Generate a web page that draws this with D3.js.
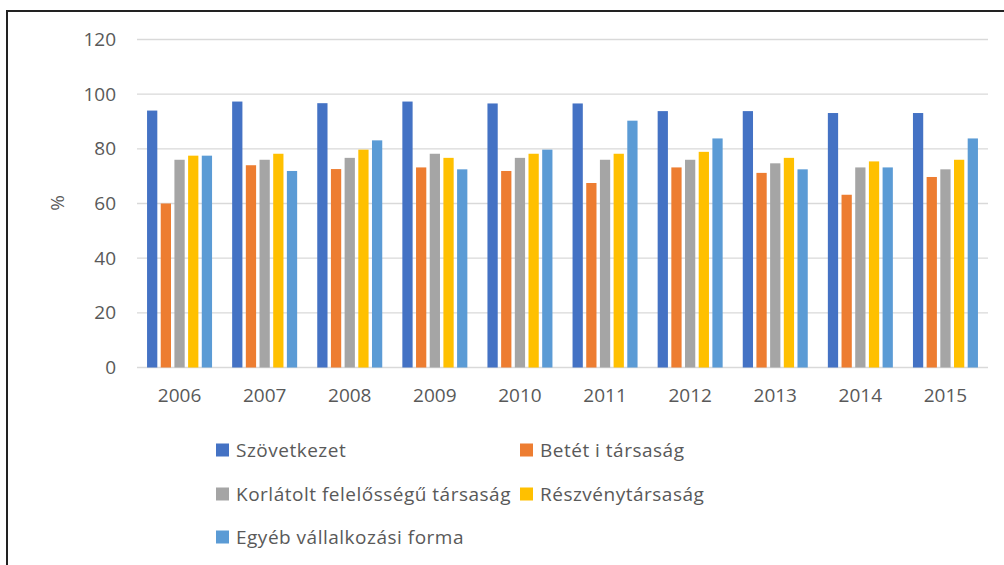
<!DOCTYPE html>
<html><head><meta charset="utf-8">
<script src="https://cdn.jsdelivr.net/npm/d3@7"></script>
<style>
body{margin:0;background:#fff;}
svg{display:block;font-family:"Open Sans","Noto Sans",sans-serif;}
</style></head>
<body><svg id="c" width="1004" height="565"></svg>
<script>
const years = ["2006","2007","2008","2009","2010","2011","2012","2013","2014","2015"];
const seriesNames = ["Szövetkezet","Betét i társaság","Korlátolt felelősségű társaság","Részvénytársaság","Egyéb vállalkozási forma"];
const szovetkezet = [94, 97.3, 96.7, 97.3, 96.6, 96.6, 93.8, 93.8, 93.1, 93.1];
const beteti = [60, 74, 72.6, 73.2, 71.9, 67.5, 73.2, 71.2, 63.2, 69.7];
const kft = [76, 76, 76.7, 78.2, 76.7, 76, 76, 74.7, 73.2, 72.5];
const rt = [77.5, 78.2, 79.7, 76.7, 78.2, 78.2, 78.9, 76.7, 75.4, 76];
const egyeb = [77.5, 71.9, 83.1, 72.5, 79.7, 90.3, 83.8, 72.5, 73.2, 83.8];
const yTicks = [0,20,40,60,80,100,120];
const colors = ["#4472C4","#ED7D31","#A5A5A5","#FFC000","#5B9BD5"];
const allSeries = [szovetkezet, beteti, kft, rt, egyeb];

const svg = d3.select("#c");
svg.append("line").attr("x1",7).attr("x2",1004).attr("y1",11).attr("y2",11).attr("stroke","#222").attr("stroke-width",2);
svg.append("line").attr("x1",7).attr("x2",7).attr("y1",10).attr("y2",565).attr("stroke","#222").attr("stroke-width",2);

const x0 = d3.scaleBand().domain(years).range([137,988]).paddingInner(0).paddingOuter(0);
const x1 = d3.scaleBand().domain(d3.range(5)).range([0,65]).paddingInner(0.25).paddingOuter(0);
const y = d3.scaleLinear().domain([0,120]).range([367.5,39.5]);

svg.append("g").selectAll("line").data(yTicks).join("line")
  .attr("x1",137).attr("x2",988)
  .attr("y1",d=>y(d)).attr("y2",d=>y(d))
  .attr("stroke","#d9d9d9").attr("stroke-width",1.3);

const yAxis = d3.axisLeft(y).tickValues(yTicks).tickSize(0).tickPadding(0);
const ga = svg.append("g").attr("transform","translate(116,0)").call(yAxis);
ga.select(".domain").remove();
ga.selectAll("text").attr("fill","#595959").style("font-size","19px").style("font-family","'Open Sans',sans-serif");

const xAxis = d3.axisBottom(x0).tickSize(0).tickPadding(0);
const gx = svg.append("g").attr("transform","translate(0,388)").call(xAxis);
gx.select(".domain").remove();
gx.selectAll("text").attr("fill","#595959").style("font-size","19px").style("font-family","'Open Sans',sans-serif");

svg.append("text").attr("transform","translate(64,203) rotate(-90)")
  .attr("text-anchor","middle").attr("fill","#595959").style("font-size","19px").text("%");

const groups = svg.append("g").selectAll("g").data(years).join("g")
  .attr("transform",(d)=>`translate(${x0(d)+x0.bandwidth()/2-32.5},0)`);
groups.selectAll("rect").data((d,i)=>allSeries.map((s,k)=>({k,v:s[i]}))).join("rect")
  .attr("x",d=>x1(d.k)).attr("width",x1.bandwidth())
  .attr("y",d=>y(d.v)).attr("height",d=>y(0)-y(d.v))
  .attr("fill",d=>colors[d.k]);

const legPos = [[216,450],[520,450],[216,494],[520,494],[216,537]];
const leg = svg.append("g").selectAll("g").data(seriesNames).join("g")
  .attr("transform",(d,i)=>`translate(${legPos[i][0]},${legPos[i][1]})`);
leg.append("rect").attr("x",0).attr("y",-6.5).attr("width",13).attr("height",13).attr("fill",(d,i)=>colors[i]);
leg.append("text").attr("x",20).attr("y",0).attr("dy","0.35em").attr("fill","#595959")
  .style("font-size","19px").style("letter-spacing","0.5px").text(d=>d);
</script></body></html>
